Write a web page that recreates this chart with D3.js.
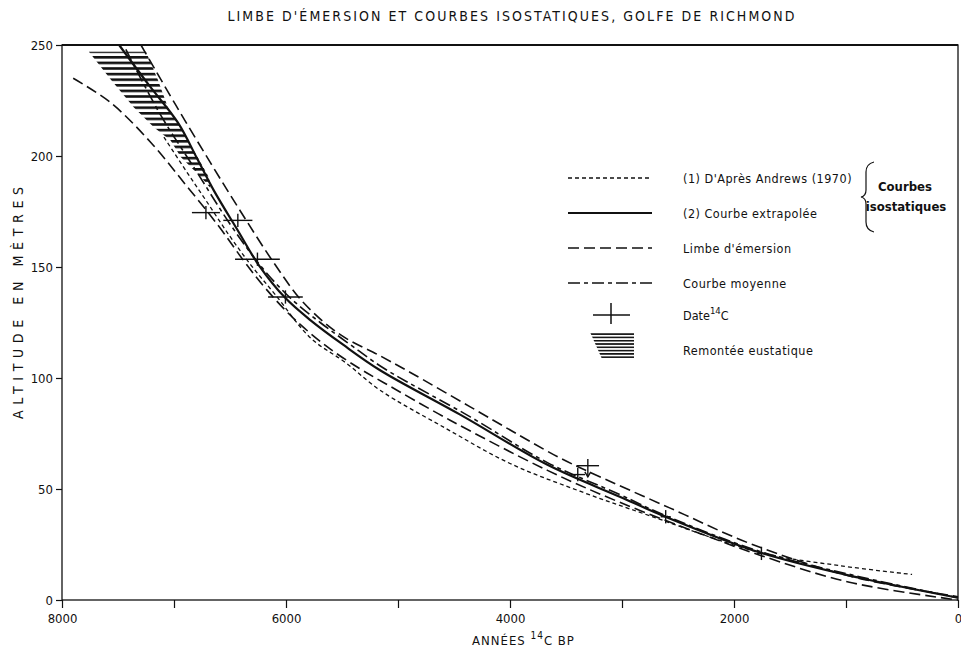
<!DOCTYPE html>
<html>
<head>
<meta charset="utf-8">
<script src="https://cdn.jsdelivr.net/npm/d3@7"></script>
<style>
body { margin: 0; background: #fff; }
text { font-family: "DejaVu Sans", sans-serif; font-stretch: condensed; fill: #111; }
</style>
</head>
<body>
<svg id="chart" width="961" height="651"></svg>
<script>
// courbe (1) d'apres Andrews (1970)
var andrewsYears = [7090, 6895, 6715, 6510, 6315, 6095, 5780, 5470, 5160, 4580, 4000, 3375, 2755, 1775, 1060, 410];
var andrewsAlt = [208.5, 193.5, 180, 164.5, 151, 137.5, 118, 107, 94.5, 77.5, 61.5, 49, 38, 21.5, 15.5, 11.5];

// courbe (2) extrapolee
var solidYears = [7490, 7225, 6965, 6795, 6645, 6425, 6245, 6005, 5780, 5490, 5160, 4445, 3670, 3020, 2635, 1775, 880, 0];
var solidAlt = [250, 232, 215, 199, 184.5, 166, 151, 136, 126, 115, 103.5, 83.5, 61, 46.5, 38, 21.5, 10, 1];

// limbe d'emersion, bord superieur et bord inferieur
var limbeHautYears = [7295, 6985, 6675, 6405, 6110, 5845, 5515, 5160, 4890, 4355, 3910, 3555, 3285, 2575, 1835, 945, 0];
var limbeHautAlt = [250, 223, 197, 175, 152, 134, 119.5, 110, 102.5, 87, 74, 64, 57.5, 41.5, 25, 10.5, 1.5];
var limbeBasYears = [7900, 7565, 7205, 6895, 6610, 6380, 6185, 5935, 5630, 5335, 5130, 4535, 3670, 3020, 2305, 1775, 970, 0];
var limbeBasAlt = [235, 224, 206, 187, 169, 153, 140.5, 127, 114, 104, 98, 81, 58.5, 44, 30, 20.3, 8, 0];

// courbe moyenne
var moyenneYears = [7430, 7120, 6805, 6495, 6210, 5960, 5695, 5425, 5130, 4355, 3670, 3020, 2635, 1775, 880, 0];
var moyenneAlt = [248, 218.5, 193.5, 169, 149.5, 136, 125, 115, 104.5, 82.5, 62, 47.5, 38.5, 22, 10.5, 1];

// dates 14C (annee, altitude, ecart)
var dateYears = [6715, 6430, 6255, 6005, 3305, 3395, 2610, 1755];
var dateAlt = [174.5, 171, 153.5, 136.5, 60.5, 56.5, 37.5, 21];
var dateErr = [125, 130, 200, 155, 100, 65, 45, 40];
var dateArrow = [false, false, false, false, true, false, false, false];

// remontee eustatique (altitude, limite gauche, limite droite)
var eustAlt = [247, 234.5, 222, 213, 207, 199.5, 190.5, 185.5];
var eustFrom = [7760, 7565, 7360, 7180, 7030, 6940, 6760, 6673];
var eustTo = [7250, 7145, 7055, 6940, 6875, 6790, 6690, 6673];

var xTicks = [8000, 7000, 6000, 5000, 4000, 3000, 2000, 1000, 0];
var yTicks = [0, 50, 100, 150, 200, 250];

var svg = d3.select('#chart');
var mLeft = 62, mRight = 958, mTop = 45, mBottom = 600;

var x = d3.scaleLinear().domain([8000, 0]).range([mLeft, mRight]);
var y = d3.scaleLinear().domain([0, 250]).range([mBottom, mTop]);

var defs = svg.append('defs');
defs.append('pattern').attr('id', 'hach').attr('patternUnits', 'userSpaceOnUse')
  .attr('width', 8).attr('height', 5.6)
  .append('rect').attr('x', 0).attr('y', 0).attr('width', 8).attr('height', 2.6).attr('fill', '#111');
defs.append('pattern').attr('id', 'hachLeg').attr('patternUnits', 'userSpaceOnUse')
  .attr('width', 8).attr('height', 3.3)
  .append('rect').attr('x', 0).attr('y', 0).attr('width', 8).attr('height', 1.6).attr('fill', '#111');

var styles = {
  andrews: { dash: '4,3', width: 1.3 },
  solid: { dash: null, width: 2.2 },
  limbe: { dash: '11,5', width: 1.6 },
  moyenne: { dash: '12,4,4,4', width: 1.6 }
};

// hachure
var eust = eustAlt.map(function(a, i) { return { a: a, x0: eustFrom[i], x1: eustTo[i] }; });
svg.append('path')
  .datum(eust)
  .attr('d', d3.area()
    .y(function(d) { return y(d.a); })
    .x0(function(d) { return x(d.x0); })
    .x1(function(d) { return x(d.x1); }))
  .attr('fill', 'url(#hach)');

var line = d3.line()
  .x(function(d) { return x(d[0]); })
  .y(function(d) { return y(d[1]); })
  .curve(d3.curveCatmullRom.alpha(0.5));

function drawCurve(years, alts, st) {
  svg.append('path')
    .datum(d3.zip(years, alts))
    .attr('d', line)
    .attr('fill', 'none')
    .attr('stroke', '#111')
    .attr('stroke-width', st.width)
    .attr('stroke-dasharray', st.dash);
}

drawCurve(andrewsYears, andrewsAlt, styles.andrews);
drawCurve(limbeHautYears, limbeHautAlt, styles.limbe);
drawCurve(limbeBasYears, limbeBasAlt, styles.limbe);
drawCurve(moyenneYears, moyenneAlt, styles.moyenne);
drawCurve(solidYears, solidAlt, styles.solid);

// dates 14C
var dates = dateYears.map(function(d, i) {
  return { yr: d, a: dateAlt[i], e: dateErr[i], arrow: dateArrow[i] };
});
var dg = svg.append('g').attr('stroke', '#111').attr('stroke-width', 1.4);
dates.forEach(function(d) {
  dg.append('line')
    .attr('x1', x(d.yr + d.e)).attr('x2', x(d.yr - d.e))
    .attr('y1', y(d.a)).attr('y2', y(d.a));
  dg.append('line')
    .attr('x1', x(d.yr)).attr('x2', x(d.yr))
    .attr('y1', y(d.a + 3)).attr('y2', y(d.arrow ? d.a - 5 : d.a - 3));
  if (d.arrow) {
    var bx = x(d.yr), by = y(d.a - 5);
    dg.append('path')
      .attr('d', 'M' + (bx - 3) + ',' + (by - 5) + 'L' + bx + ',' + by + 'L' + (bx + 3) + ',' + (by - 5))
      .attr('fill', 'none');
  }
});

// cadre
svg.append('rect')
  .attr('x', mLeft).attr('y', mTop)
  .attr('width', mRight - mLeft).attr('height', mBottom - mTop)
  .attr('fill', 'none').attr('stroke', '#111').attr('stroke-width', 1.3);
svg.append('line')
  .attr('x1', mLeft).attr('x2', mRight).attr('y1', mTop).attr('y2', mTop)
  .attr('stroke', '#111').attr('stroke-width', 2);

var xAxis = svg.append('g')
  .attr('transform', 'translate(0,' + mBottom + ')')
  .call(d3.axisBottom(x).tickValues(xTicks).tickSize(8).tickPadding(6)
    .tickFormat(function(d) { return d % 2000 === 0 ? d : ''; }));
xAxis.select('.domain').remove();

var yAxis = svg.append('g')
  .attr('transform', 'translate(' + mLeft + ',0)')
  .call(d3.axisLeft(y).tickValues(yTicks).tickSize(6).tickPadding(3));
yAxis.select('.domain').remove();

svg.selectAll('.tick line').attr('stroke', '#111').attr('stroke-width', 1.2);
svg.selectAll('.tick text').attr('font-size', 13).attr('fill', '#111')
  .style('font-family', '"DejaVu Sans", sans-serif').style('font-stretch', 'condensed');

// titres
svg.append('text')
  .attr('x', 511).attr('y', 21)
  .attr('text-anchor', 'middle')
  .attr('font-size', 14)
  .attr('textLength', 567).attr('lengthAdjust', 'spacing')
  .text("LIMBE D'ÉMERSION ET COURBES ISOSTATIQUES, GOLFE DE RICHMOND");

svg.append('text')
  .attr('transform', 'translate(23,303) rotate(-90)')
  .attr('text-anchor', 'middle')
  .attr('font-size', 14)
  .attr('textLength', 232).attr('lengthAdjust', 'spacing')
  .text('ALTITUDE EN MÈTRES');

var xl = svg.append('text')
  .attr('x', 472).attr('y', 645)
  .attr('font-size', 13)
  .attr('letter-spacing', 1);
xl.append('tspan').text('ANNÉES ');
xl.append('tspan').attr('font-size', 10).attr('dy', -6).text('14');
xl.append('tspan').attr('dy', 6).text('C BP');

// legende
var legRows = [
  { y: 178, type: 'andrews', label: "(1) D'Après Andrews (1970)" },
  { y: 213, type: 'solid', label: '(2) Courbe extrapolée' },
  { y: 248, type: 'limbe', label: "Limbe d'émersion" },
  { y: 283, type: 'moyenne', label: 'Courbe moyenne' }
];
var lg = svg.append('g');
legRows.forEach(function(r) {
  lg.append('line')
    .attr('x1', 568).attr('x2', 652).attr('y1', r.y).attr('y2', r.y)
    .attr('stroke', '#111')
    .attr('stroke-width', styles[r.type].width)
    .attr('stroke-dasharray', styles[r.type].dash);
  lg.append('text').attr('x', 683).attr('y', r.y + 4.5).attr('font-size', 12.5)
    .attr('letter-spacing', 0.5)
    .text(r.label);
});
lg.append('line').attr('x1', 593).attr('x2', 630).attr('y1', 315).attr('y2', 315)
  .attr('stroke', '#111').attr('stroke-width', 1.5);
lg.append('line').attr('x1', 611).attr('x2', 611).attr('y1', 303).attr('y2', 324)
  .attr('stroke', '#111').attr('stroke-width', 1.5);
var dl = lg.append('text').attr('x', 683).attr('y', 320).attr('font-size', 12.5);
dl.append('tspan').text('Date');
dl.append('tspan').attr('font-size', 9.5).attr('dy', -6).text('14');
dl.append('tspan').attr('dy', 6).text('C');
lg.append('path')
  .attr('d', 'M590,332 L634,332 L634,359 L602,359 Z')
  .attr('fill', 'url(#hachLeg)');
lg.append('text').attr('x', 683).attr('y', 355).attr('font-size', 12.5)
  .attr('letter-spacing', 0.5)
  .text('Remontée eustatique');

// accolade
lg.append('path')
  .attr('d', 'M874,162 Q866,164 866,172 L866,190 Q866,196 861,197 Q866,198 866,204 L866,222 Q866,230 874,232')
  .attr('fill', 'none').attr('stroke', '#111').attr('stroke-width', 1.2);
lg.append('text').attr('x', 905).attr('y', 191).attr('text-anchor', 'middle')
  .attr('font-size', 13).attr('font-weight', 'bold').text('Courbes');
lg.append('text').attr('x', 906).attr('y', 211).attr('text-anchor', 'middle')
  .attr('font-size', 13).attr('font-weight', 'bold').text('isostatiques');
</script>
</body>
</html>
